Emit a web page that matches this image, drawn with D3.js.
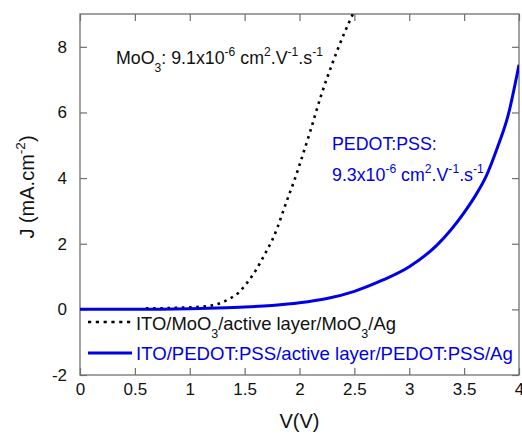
<!DOCTYPE html>
<html>
<head>
<meta charset="utf-8">
<script src="https://cdn.jsdelivr.net/npm/d3@7/dist/d3.min.js"></script>
<style>
  html, body { margin: 0; padding: 0; background: #fff; }
  svg { display: block; font-family: "Liberation Sans", Arial, sans-serif; }
  .frame { fill: none; stroke: #707070; stroke-width: 1.3; }
  .tick line { stroke: #707070; stroke-width: 1.2; }
  .tick text { font-size: 17px; fill: #111; }
  .domain { display: none; }
</style>
</head>
<body>
<div id="chart"></div>
<script>
/* J–V curves: MoO3 vs PEDOT:PSS hole-only devices. */

/* ---- data ---- */
const MOO3_V = [0.6, 0.7, 0.8, 0.9, 1.0, 1.1, 1.2, 1.3, 1.35, 1.4, 1.45, 1.5, 1.55, 1.6, 1.65,
  1.7, 1.75, 1.8, 1.85, 1.9, 1.95, 2.0, 2.1, 2.2, 2.3, 2.4, 2.5];
const MOO3_J = [0.03, 0.03, 0.04, 0.05, 0.06, 0.08, 0.12, 0.22, 0.3, 0.4, 0.52, 0.72, 0.93, 1.18, 1.47,
  1.78, 2.1, 2.5, 2.98, 3.45, 3.9, 4.4, 5.45, 6.55, 7.5, 8.35, 9.1];

const PEDOT_V = [0, 0.5, 1.0, 1.25, 1.5, 1.75, 2.0, 2.25, 2.5, 2.75, 3.0, 3.25, 3.5, 3.6, 3.7, 3.8, 3.9, 4.0];
const PEDOT_J = [0, 0.0, 0.02, 0.04, 0.07, 0.12, 0.2, 0.33, 0.55, 0.88, 1.3, 1.95, 2.95, 3.45, 4.05, 4.9, 5.9, 7.45];

const X_TICKS = [0, 0.5, 1, 1.5, 2, 2.5, 3, 3.5, 4];
const Y_TICKS = [-2, 0, 2, 4, 6, 8];
const LEGEND = ["ITO/MoO3/active layer/MoO3/Ag", "ITO/PEDOT:PSS/active layer/PEDOT:PSS/Ag"];

const BLUE = "#0000e6";
const W = 522, H = 437;
const M = { top: 14, right: 3, bottom: 62, left: 80 };
const IW = W - M.left - M.right, IH = H - M.top - M.bottom;

const x = d3.scaleLinear().domain([0, 4]).range([0, IW]);
const y = d3.scaleLinear().domain([-2, 9]).range([IH, 0]);

const svg = d3.select("#chart").append("svg").attr("width", W).attr("height", H);
const g = svg.append("g").attr("transform", `translate(${M.left},${M.top})`);

svg.append("defs").append("clipPath").attr("id", "clip")
  .append("rect").attr("width", IW).attr("height", IH);

// axes: ticks inward on all four sides
const fmt = d => String(d);
g.append("g").attr("transform", `translate(0,${IH})`)
  .call(d3.axisBottom(x).tickValues(X_TICKS).tickFormat(fmt).tickSizeInner(-7).tickSizeOuter(0).tickPadding(8))
  .call(a => a.selectAll("text").attr("dy", "0.71em"));
g.append("g")
  .call(d3.axisTop(x).tickValues(X_TICKS).tickFormat("").tickSizeInner(-7).tickSizeOuter(0));
g.append("g")
  .call(d3.axisLeft(y).tickValues(Y_TICKS).tickFormat(fmt).tickSizeInner(-7).tickSizeOuter(0).tickPadding(13));
g.append("g").attr("transform", `translate(${IW},0)`)
  .call(d3.axisRight(y).tickValues(Y_TICKS).tickFormat("").tickSizeInner(-7).tickSizeOuter(0));

g.append("rect").attr("class", "frame").attr("width", IW).attr("height", IH);

// curves
const line = d3.line().curve(d3.curveMonotoneX).x(d => x(d[0])).y(d => y(d[1]));
const moo3 = MOO3_V.map((v, i) => [v, MOO3_J[i]]);
const pedot = PEDOT_V.map((v, i) => [v, PEDOT_J[i]]);

const plot = g.append("g").attr("clip-path", "url(#clip)");
plot.append("path").datum(moo3).attr("d", line)
  .attr("fill", "none").attr("stroke", "#000").attr("stroke-width", 2.6)
  .attr("stroke-dasharray", "2.6,4.6");
plot.append("path").datum(pedot).attr("d", line)
  .attr("fill", "none").attr("stroke", BLUE).attr("stroke-width", 3);

// rich text helper: parts = [[text, "n"|"sup"|"sub"], ...]
function rich(sel, px, py, parts, color, size) {
  const t = sel.append("text").attr("x", px).attr("y", py)
    .attr("fill", color).attr("font-size", size);
  let shift = 0;
  parts.forEach(([s, k]) => {
    const target = k === "sup" ? -size * 0.44 : k === "sub" ? size * 0.45 : 0;
    const ts = t.append("tspan").text(s).attr("dy", target - shift);
    if (k !== "n") ts.attr("font-size", size * 0.68);
    shift = target;
  });
  return t;
}

// annotations
const unitParts = [["x10", "n"], ["-6", "sup"], [" cm", "n"], ["2", "sup"], [".V", "n"],
  ["-1", "sup"], [".s", "n"], ["-1", "sup"]];
rich(svg, 116, 64, [["MoO", "n"], ["3", "sub"], [": 9.1", "n"], ...unitParts], "#111", 17.8);
rich(svg, 332, 150, [["PEDOT:PSS:", "n"]], BLUE, 17.8);
rich(svg, 332, 181, [["9.3", "n"], ...unitParts], BLUE, 17.8);

// legend
const leg = svg.append("g");
leg.append("line").attr("x1", 88).attr("x2", 132).attr("y1", 322).attr("y2", 322)
  .attr("stroke", "#000").attr("stroke-width", 2.6).attr("stroke-dasharray", "3.2,4.6");
rich(leg, 136, 330, [["ITO/MoO", "n"], ["3", "sub"], ["/active layer/MoO", "n"], ["3", "sub"], ["/Ag", "n"]], "#111", 18.4);
leg.append("line").attr("x1", 88).attr("x2", 132).attr("y1", 353).attr("y2", 353)
  .attr("stroke", BLUE).attr("stroke-width", 3);
rich(leg, 136, 360, [[LEGEND[1], "n"]], BLUE, 18.6);

// axis titles
svg.append("text").attr("x", M.left + IW / 2).attr("y", 428).attr("text-anchor", "middle")
  .attr("font-size", 20).attr("fill", "#111").text("V(V)");
const yl = rich(svg, 0, 0, [["J (mA.cm", "n"], ["-2", "sup"], [")", "n"]], "#111", 20);
yl.attr("text-anchor", "middle").attr("transform", "translate(34,187) rotate(-90)");
</script>
</body>
</html>
